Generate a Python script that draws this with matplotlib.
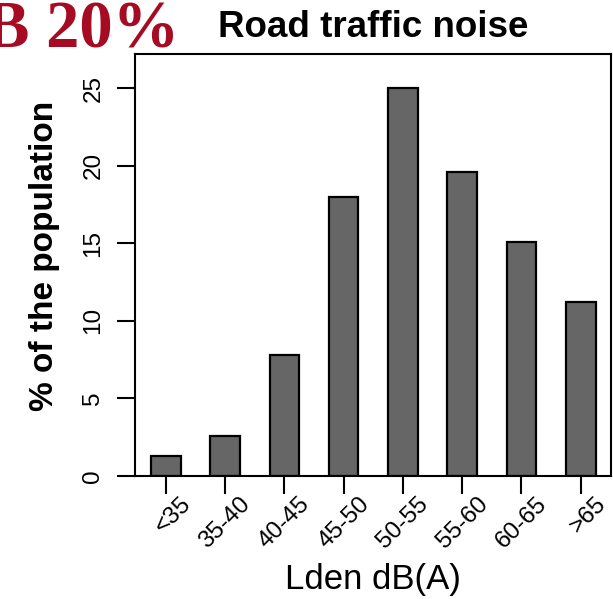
import matplotlib
matplotlib.use("Agg")
import matplotlib.pyplot as plt
import matplotlib.transforms as mtransforms
import numpy as np

categories = ["<35", "35-40", "40-45", "45-50", "50-55", "55-60", "60-65", ">65"]
population_pct = [1.3, 2.6, 7.8, 18.0, 25.0, 19.6, 15.1, 11.2]
yticks = [0, 5, 10, 15, 20, 25]

plt.rcParams["font.family"] = ["Liberation Sans", "DejaVu Sans"]

W, H = 613, 599
fig = plt.figure(figsize=(W / 100, H / 100), dpi=100)
# axes box in pixels: left 135, right 611, top 54, bottom 476
ax = fig.add_axes([135 / W, (H - 476) / H, (611 - 135) / W, (476 - 54) / H])

x = np.arange(len(categories))
ax.bar(x, population_pct, width=0.5, color="#666666", edgecolor="black", linewidth=1.6)

ax.set_xlim(-0.52, 7.51)
ax.set_ylim(0, 27.2)
ax.set_yticks(yticks)
ax.set_yticklabels([str(v) for v in yticks], rotation=90, va="center")
ax.set_xticks(x)
ax.set_xticklabels(categories, rotation=45, ha="right", va="top")
ax.tick_params(axis="both", length=13, width=1.5, direction="out", labelsize=17.5)
ax.tick_params(axis="y", pad=9)
ax.tick_params(axis="x", pad=-1)
shift = mtransforms.ScaledTranslation(0.30, 0, fig.dpi_scale_trans)
for lab in ax.get_xticklabels():
    lab.set_transform(lab.get_transform() + shift)
for s in ax.spines.values():
    s.set_linewidth(1.5)

ax.set_ylabel("% of the population", fontsize=24, fontweight="bold")
ax.yaxis.set_label_coords(-0.158, 0.521)
ax.set_xlabel("Lden dB(A)", fontsize=25)
ax.xaxis.set_label_coords(0.5, -0.205)
ax.set_title("Road traffic noise", fontsize=26.5, fontweight="bold", pad=12)

fig.text(179 / W, (H - 48) / H, "B 20%", color="#A50B22", fontsize=48, fontweight="bold",
         family="Liberation Serif", ha="right", va="baseline")

fig.savefig("out.png", dpi=100)
